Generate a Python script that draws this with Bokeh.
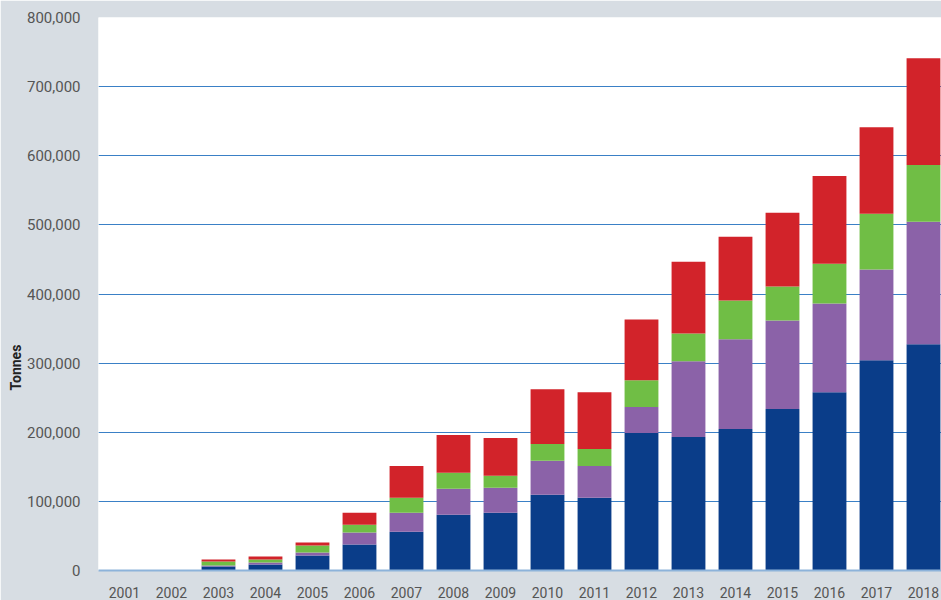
from bokeh.plotting import figure
from bokeh.models import ColumnDataSource, FixedTicker, NumeralTickFormatter, Title, Range1d
from bokeh.embed import file_html
from bokeh.resources import INLINE

years = [2001, 2002, 2003, 2004, 2005, 2006, 2007, 2008, 2009, 2010,
         2011, 2012, 2013, 2014, 2015, 2016, 2017, 2018]
series_blue = [0, 0, 5800, 8600, 21600, 37500, 56200, 80700, 83600, 109500,
               105200, 198900, 193100, 204700, 233500, 258000, 304100, 327200]
series_purple = [0, 0, 1500, 2900, 4300, 17300, 27400, 37500, 36000, 49100,
                 46100, 37500, 109600, 129700, 128300, 128300, 131200, 177300]
series_green = [0, 0, 5700, 4400, 10100, 11500, 21600, 23100, 17300, 24500,
                24600, 38900, 40300, 56200, 49000, 57600, 80700, 82100]
series_red = [0, 0, 2900, 4300, 4400, 17300, 46100, 54700, 54800, 79200,
              82100, 87900, 103800, 92300, 106700, 126900, 125400, 154300]
y_ticks = [0, 100000, 200000, 300000, 400000, 500000, 600000, 700000, 800000]

stack_names = ["blue", "purple", "green", "red"]
colors = ["#0a3d89", "#8b62a8", "#70be45", "#d2232a"]

source = ColumnDataSource(dict(year=years, blue=series_blue, purple=series_purple,
                               green=series_green, red=series_red))

p = figure(width=941, height=600, output_backend="svg", toolbar_location=None,
           x_range=Range1d(2000.447, 2018.383), y_range=Range1d(0, 800000),
           min_border_left=98, min_border_right=0, min_border_top=17,
           min_border_bottom=28)

p.vbar_stack(stack_names, x="year", width=0.72, color=colors, source=source,
             line_color=None)

p.background_fill_color = "white"
p.border_fill_color = "#d7dde3"
p.outline_line_color = None

p.xgrid.grid_line_color = None
p.ygrid.grid_line_color = "#3a80c6"
p.ygrid.grid_line_width = 1.2
p.ygrid.ticker = FixedTicker(ticks=y_ticks)

p.yaxis.ticker = FixedTicker(ticks=y_ticks)
p.yaxis.formatter = NumeralTickFormatter(format="0,0")
p.yaxis.axis_line_color = None
p.yaxis.major_tick_line_color = None
p.yaxis.minor_tick_line_color = None
p.yaxis.major_label_standoff = 12
p.yaxis.major_label_text_font = "Roboto"
p.yaxis.major_label_text_font_size = "15px"
p.yaxis.major_label_text_color = "#555555"

p.xaxis.ticker = FixedTicker(ticks=years)
p.xaxis.axis_line_color = "#8db3da"
p.xaxis.axis_line_width = 2
p.xaxis.major_tick_line_color = None
p.xaxis.minor_tick_line_color = None
p.xaxis.major_label_standoff = 10
p.xaxis.major_label_text_font = "Roboto"
p.xaxis.major_label_text_font_size = "14px"
p.xaxis.major_label_text_color = "#555555"

p.add_layout(Title(text="Tonnes", align="left", offset=180, standoff=0,
                   text_font="Roboto", text_font_style="bold",
                   text_font_size="14px", text_color="#222222"), "left")

open("out.html", "w").write(file_html(p, INLINE))
